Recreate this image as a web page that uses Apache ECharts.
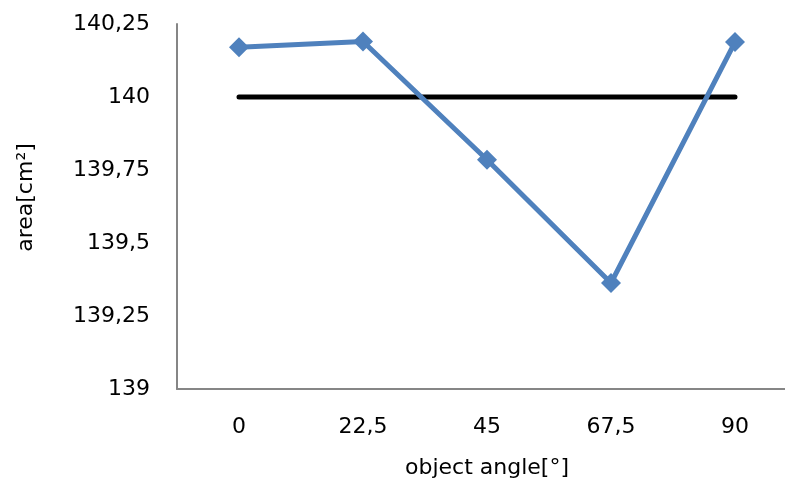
<!DOCTYPE html>
<html>
<head>
<meta charset="utf-8">
<script src="https://cdn.jsdelivr.net/npm/echarts@6/dist/echarts.min.js"></script>
<style>html,body{margin:0;padding:0;background:#fff}#c{width:785px;height:489px}</style>
</head>
<body>
<div id="c"></div>
<script>
var categories = ['0', '22,5', '45', '67,5', '90'];
var measuredArea = [140.170, 140.190, 139.785, 139.363, 140.188];
var referenceArea = [140, 140, 140, 140, 140];
var yMin = 139, yMax = 140.25, yStep = 0.25;

var chart = echarts.init(document.getElementById('c'), null, {renderer: 'canvas'});
var font = 'DejaVu Sans';
chart.setOption({
  animation: false,
  backgroundColor: '#ffffff',
  grid: {left: 177, top: 24, width: 620, height: 365, outerBoundsMode: 'none', containLabel: false},
  xAxis: {
    type: 'category',
    data: categories,
    boundaryGap: true,
    axisLine: {lineStyle: {color: '#868686', width: 2}},
    axisTick: {show: false},
    axisLabel: {color: '#000', fontFamily: font, fontSize: 22, margin: 27},
    name: 'object angle[°]',
    nameLocation: 'middle',
    nameGap: 68,
    nameTextStyle: {color: '#000', fontFamily: font, fontSize: 22}
  },
  yAxis: {
    type: 'value',
    min: yMin, max: yMax, interval: yStep,
    axisLine: {show: true, lineStyle: {color: '#868686', width: 2}},
    axisTick: {show: false},
    splitLine: {show: false},
    axisLabel: {
      color: '#000', fontFamily: font, fontSize: 22, margin: 27,
      formatter: function (v) { return String(+v.toFixed(2)).replace('.', ','); }
    },
    name: 'area[cm²]',
    nameLocation: 'middle',
    nameGap: 140,
    nameRotate: 90,
    nameTextStyle: {color: '#000', fontFamily: font, fontSize: 22, padding: [0, 0, 0, 18]}
  },
  series: [
    {
      type: 'line',
      data: referenceArea,
      symbol: 'none',
      lineStyle: {color: '#000000', width: 5, cap: 'round'},
      z: 2
    },
    {
      type: 'line',
      data: measuredArea,
      symbol: 'diamond',
      symbolSize: 20,
      itemStyle: {color: '#4F81BD'},
      lineStyle: {color: '#4F81BD', width: 5},
      z: 3
    }
  ]
});
</script>
</body>
</html>
